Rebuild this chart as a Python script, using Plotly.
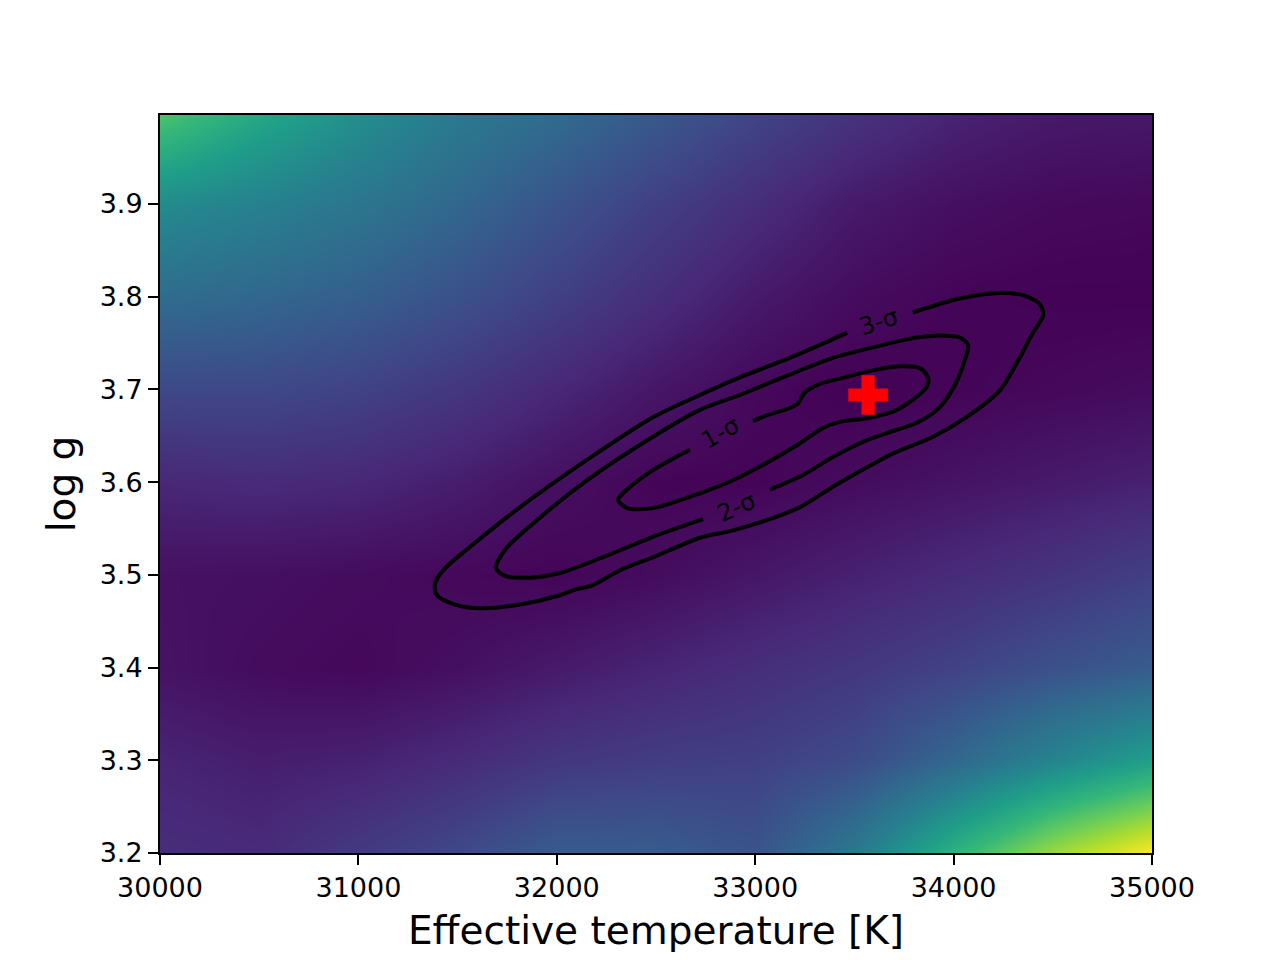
import plotly.graph_objects as go

# chi2-like background surface (normalised 0..1)
teff_grid = [30000, 30500, 31000, 31500, 32000, 32500, 33000, 33500, 34000, 34500, 35000]
logg_grid = [3.2, 3.3, 3.4, 3.5, 3.6, 3.7, 3.8, 3.9, 4.0]
chi2_grid = [
    [0.13, 0.12, 0.17, 0.22, 0.29, 0.29, 0.26, 0.40, 0.64, 0.85, 1.00],   # 3.2
    [0.10, 0.08, 0.09, 0.12, 0.16, 0.18, 0.19, 0.23, 0.33, 0.45, 0.56],   # 3.3
    [0.05, 0.03, 0.02, 0.04, 0.07, 0.10, 0.13, 0.16, 0.20, 0.25, 0.29],   # 3.4
    [0.045, 0.04, 0.03, 0.02, 0.01, 0.03, 0.06, 0.09, 0.12, 0.15, 0.19],  # 3.5
    [0.11, 0.12, 0.11, 0.08, 0.04, 0.01, 0.01, 0.03, 0.05, 0.07, 0.09],   # 3.6
    [0.22, 0.22, 0.20, 0.16, 0.11, 0.06, 0.02, 0.00, 0.01, 0.02, 0.03],   # 3.7
    [0.35, 0.33, 0.30, 0.25, 0.19, 0.13, 0.07, 0.03, 0.01, 0.005, 0.005], # 3.8
    [0.48, 0.44, 0.39, 0.33, 0.26, 0.19, 0.13, 0.07, 0.04, 0.025, 0.02],  # 3.9
    [0.73, 0.60, 0.50, 0.41, 0.35, 0.28, 0.21, 0.15, 0.10, 0.07, 0.065],  # 4.0
]

# confidence contours (Teff, log g); each one is left open where its label sits
sig3_teff = [33795, 34032, 34234, 34360, 34435, 34451, 34400, 34320, 34234, 34098, 33896,
             33695, 33564, 33392, 33226, 33059, 32888, 32722, 32485, 32319, 32182, 32092,
             32016, 31815, 31613, 31487, 31396, 31386, 31436, 31562, 31815, 32152, 32485,
             32722, 32923, 33175, 33463]
sig3_logg = [3.783, 3.798, 3.804, 3.801, 3.792, 3.780, 3.761, 3.729, 3.699, 3.675, 3.649,
             3.631, 3.616, 3.595, 3.573, 3.559, 3.548, 3.540, 3.519, 3.505, 3.489, 3.484,
             3.478, 3.468, 3.464, 3.468, 3.478, 3.491, 3.507, 3.530, 3.573, 3.624, 3.670,
             3.694, 3.713, 3.734, 3.761]

sig2_teff = [33075, 33226, 33392, 33528, 33664, 33815, 33931, 34007, 34057, 34073, 34032,
             33967, 33815, 33644, 33392, 33140, 32923, 32722, 32485, 32152, 31900, 31739,
             31694, 31739, 31865, 32016, 32233, 32485, 32737]
sig2_logg = [3.592, 3.606, 3.627, 3.642, 3.653, 3.664, 3.681, 3.705, 3.732, 3.748, 3.756,
             3.758, 3.756, 3.748, 3.734, 3.713, 3.694, 3.678, 3.649, 3.602, 3.559, 3.527,
             3.507, 3.499, 3.497, 3.502, 3.519, 3.541, 3.560]

sig1_teff = [32989, 33059, 33175, 33216, 33251, 33327, 33453, 33579, 33730, 33831, 33871,
             33866, 33795, 33695, 33564, 33427, 33337, 33226, 33059, 32888, 32722, 32485,
             32354, 32309, 32354, 32485, 32671]
sig1_logg = [3.666, 3.672, 3.680, 3.685, 3.697, 3.706, 3.713, 3.720, 3.725, 3.723, 3.713,
             3.703, 3.689, 3.676, 3.669, 3.665, 3.658, 3.642, 3.621, 3.602, 3.588, 3.572,
             3.572, 3.581, 3.592, 3.613, 3.635]

# contour labels: (text, Teff, log g, angle)
labels = [("1-σ", 32823, 3.653, -30), ("2-σ", 32908, 3.573, -24), ("3-σ", 33619, 3.773, -18)]

best_teff = [33569]
best_logg = [3.694]

x_ticks = [30000, 31000, 32000, 33000, 34000, 35000]
y_ticks = [3.2, 3.3, 3.4, 3.5, 3.6, 3.7, 3.8, 3.9]

fig = go.Figure()
fig.add_trace(go.Heatmap(
    x=teff_grid, y=logg_grid, z=chi2_grid,
    colorscale="Viridis", zmin=0, zmax=1, zsmooth="best", showscale=False,
))
for xs, ys in [(sig3_teff, sig3_logg), (sig2_teff, sig2_logg), (sig1_teff, sig1_logg)]:
    fig.add_trace(go.Scatter(x=xs, y=ys, mode="lines",
                             line=dict(color="black", width=4, shape="spline", smoothing=0.8),
                             showlegend=False, hoverinfo="skip"))
fig.add_trace(go.Scatter(x=best_teff, y=best_logg, mode="markers",
                         marker=dict(symbol="cross", size=33, color="red", line=dict(width=0)),
                         showlegend=False))

for text, tx, ty, ang in labels:
    fig.add_annotation(x=tx, y=ty, text=text, showarrow=False, textangle=ang,
                       font=dict(family="DejaVu Sans", size=24, color="black"))

# page body adds ~8px offset, margins compensate so the axes sit where matplotlib put them
fig.update_layout(
    width=1280, height=960,
    paper_bgcolor="white", plot_bgcolor="white",
    margin=dict(l=152, r=136, t=107, b=115),
    font=dict(family="DejaVu Sans", color="black"),
    showlegend=False,
)
axis_style = dict(showline=True, linecolor="black", linewidth=2, mirror=True, ticks="outside",
                  ticklen=10, tickwidth=2, tickcolor="black", showgrid=False, zeroline=False,
                  tickfont=dict(size=27), title_font=dict(size=39))
fig.update_xaxes(range=[30000, 35000], tickvals=x_ticks, ticktext=[str(v) for v in x_ticks],
                 title_text="Effective temperature [K]", title_standoff=14, **axis_style)
fig.update_yaxes(range=[3.2, 3.996], tickvals=y_ticks, ticktext=[f"{v:.1f}" for v in y_ticks],
                 title_text="log g", title_standoff=12, **axis_style)

fig.write_html("out.html")
